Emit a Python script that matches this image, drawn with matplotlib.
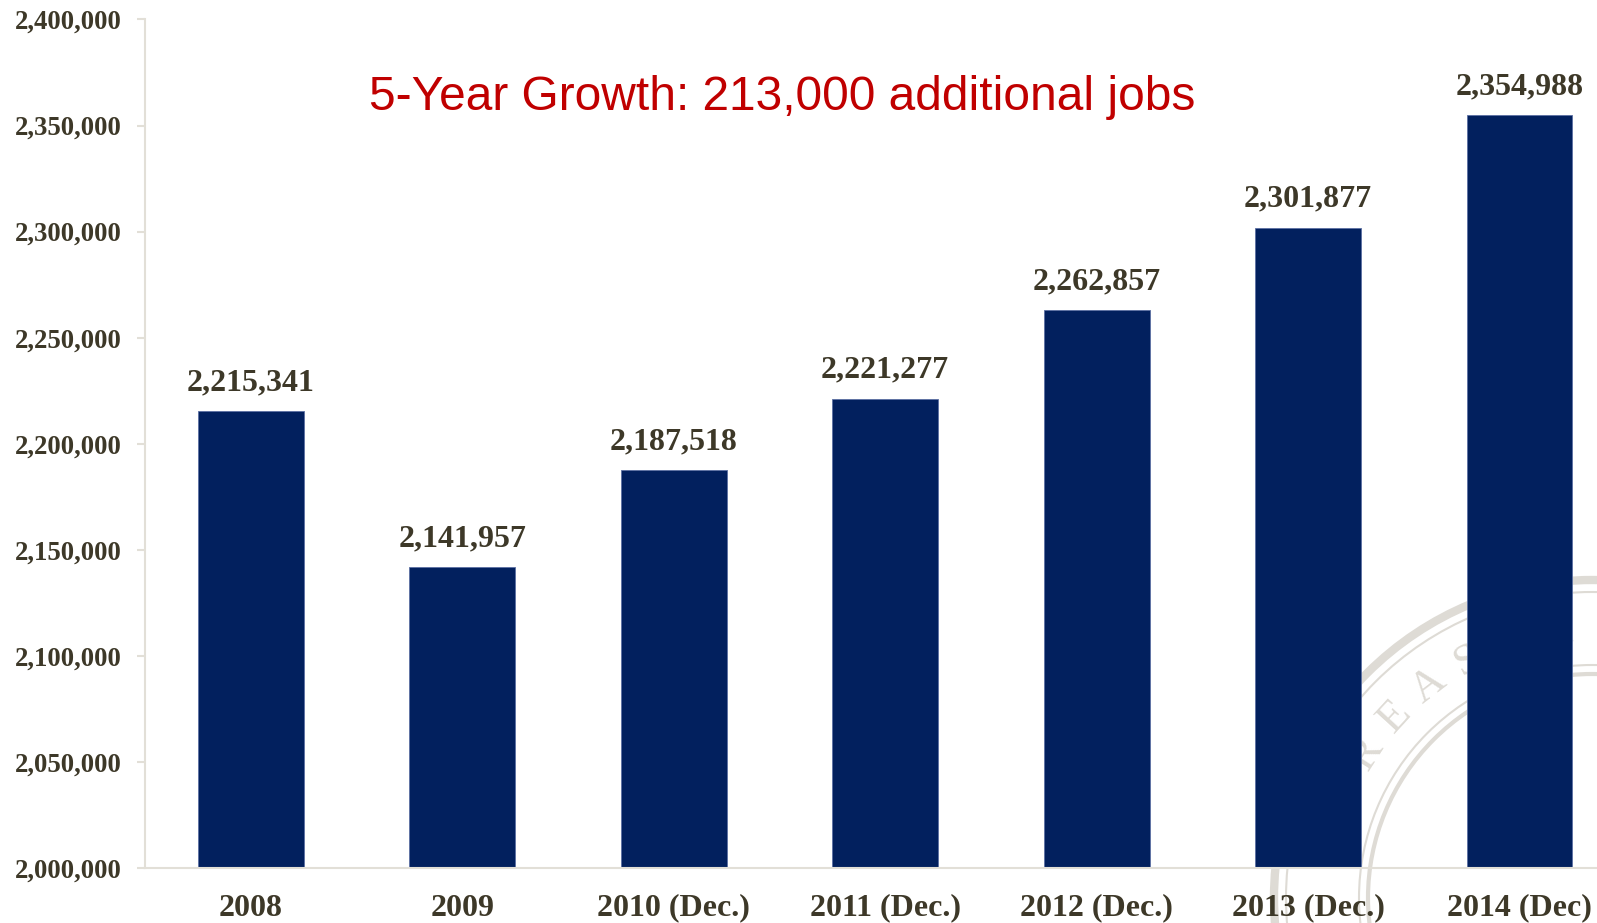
import numpy as np
import matplotlib
matplotlib.use("Agg")
import matplotlib.pyplot as plt
from matplotlib.ticker import FuncFormatter, MultipleLocator
from matplotlib.patches import Circle

categories = ["2008", "2009", "2010 (Dec.)", "2011 (Dec.)", "2012 (Dec.)", "2013 (Dec.)", "2014 (Dec)"]
jobs = [2215341, 2141957, 2187518, 2221277, 2262857, 2301877, 2354988]
headline = "5-Year Growth: 213,000 additional jobs"

BAR = "#02205e"
TEXT = "#3d3828"
AXIS = "#e2dfd7"
RED = "#c00000"
SERIF = ["Liberation Serif", "DejaVu Serif"]

fig = plt.figure(figsize=(15.97, 9.23), dpi=100)

# faint seal in the lower-right corner, behind everything
bg = fig.add_axes([0, 0, 1, 1], zorder=0)
bg.set_xlim(0, 1597)
bg.set_ylim(923, 0)
bg.axis("off")
cx, cy = 1592, 898
seal = "#dedbd5"
for r, lw in [(318, 6.0), (306, 1.5), (233, 1.5), (224, 3.0)]:
    bg.add_patch(Circle((cx, cy), r, fill=False, ec=seal, lw=lw))
word = "TREASURER"
for i, ch in enumerate(word):
    a = 157.5 - 10.0 * i
    t = np.deg2rad(a)
    rr = 268
    x = cx + rr * np.cos(t)
    y = cy - rr * np.sin(t)
    if x > 1565:
        break
    bg.text(x, y, ch, rotation=a - 90, ha="center", va="center",
            fontsize=32, color=seal, family=SERIF)

ax = fig.add_axes([145 / 1597, 1 - 868 / 923, 1 - 145 / 1597, (868 - 19.5) / 923], zorder=1)
ax.patch.set_alpha(0)

x = np.arange(len(categories))
bars = ax.bar(x, jobs, width=0.5, color=BAR, edgecolor="#5b6fa3", linewidth=0.6, zorder=2)

ax.set_xlim(-0.5, 6.366)
ax.set_ylim(2000000, 2400000)
ax.yaxis.set_major_locator(MultipleLocator(50000))
ax.yaxis.set_major_formatter(FuncFormatter(lambda v, _: f"{int(v):,}"))

for s in ["top", "right"]:
    ax.spines[s].set_visible(False)
for s in ["left", "bottom"]:
    ax.spines[s].set_color(AXIS)
    ax.spines[s].set_linewidth(1.5)

ax.tick_params(axis="y", length=6, width=1.5, color=AXIS, pad=10.5)
ax.tick_params(axis="x", length=0, pad=18.5)
ax.set_xticks(x)
ax.set_xticklabels(categories)
for lab in ax.get_yticklabels():
    lab.set_fontfamily(SERIF)
    lab.set_fontweight("bold")
    lab.set_fontsize(19.3)
    lab.set_color(TEXT)
for lab in ax.get_xticklabels():
    lab.set_fontfamily(SERIF)
    lab.set_fontweight("bold")
    lab.set_fontsize(23)
    lab.set_color(TEXT)

for xi, v in zip(x, jobs):
    ax.annotate(f"{v:,}", (xi, v), xytext=(0, 10), textcoords="offset points",
                ha="center", va="bottom", fontsize=23, fontweight="bold",
                family=SERIF, color=TEXT, zorder=3)

fig.text(782 / 1597, 1 - 98 / 923, headline, ha="center", va="center",
         fontsize=34.5, color=RED, family=["Liberation Sans", "DejaVu Sans"])

fig.savefig("out.png", dpi=100)
